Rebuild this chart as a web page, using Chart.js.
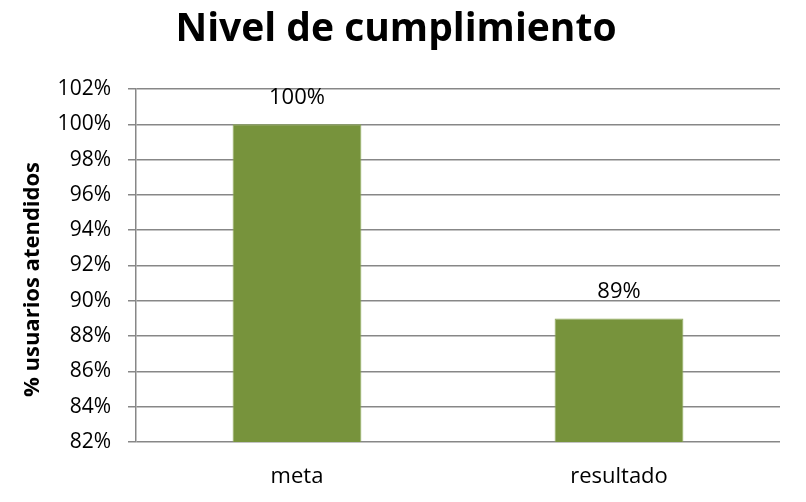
<!DOCTYPE html>
<html>
<head>
<meta charset="utf-8">
<script src="https://cdn.jsdelivr.net/npm/chart.js@4/dist/chart.umd.min.js"></script>
<style>
html,body{margin:0;padding:0;background:#fff;}
#wrap{width:806px;height:502px;position:relative;}
</style>
</head>
<body>
<div id="wrap"><canvas id="c" width="806" height="502"></canvas></div>
<script>
const categories = ["meta", "resultado"];
const values = [100, 89];
const yTicks = [82, 84, 86, 88, 90, 92, 94, 96, 98, 100, 102];
const titleText = "Nivel de cumplimiento";
const yAxisTitle = "% usuarios atendidos";

const FONT = "'Open Sans', Lato, sans-serif";

const dataLabels = {
  id: 'dataLabels',
  afterDatasetsDraw(chart) {
    const ctx = chart.ctx;
    const meta = chart.getDatasetMeta(0);
    ctx.save();
    ctx.font = "22px " + FONT;
    ctx.fillStyle = "#000";
    ctx.textAlign = "center";
    ctx.textBaseline = "middle";
    meta.data.forEach((bar, i) => {
      ctx.fillText(values[i] + "%", bar.x, bar.y - 27);
    });
    ctx.restore();
  }
};

const yTitlePlugin = {
  id: 'yTitlePlugin',
  afterDraw(chart) {
    const ctx = chart.ctx;
    const area = chart.chartArea;
    ctx.save();
    ctx.font = "bold 22px " + FONT;
    ctx.fillStyle = "#000";
    ctx.textAlign = "center";
    ctx.textBaseline = "middle";
    ctx.translate(33, (area.top + area.bottom) / 2 + 14);
    ctx.rotate(-Math.PI / 2);
    ctx.fillText(yAxisTitle, 0, 0);
    ctx.restore();
  }
};

new Chart(document.getElementById('c'), {
  type: 'bar',
  data: {
    labels: categories,
    datasets: [{
      data: values,
      backgroundColor: '#77933C',
      borderColor: '#8FAA5A',
      borderWidth: 1,
      categoryPercentage: 0.4,
      barPercentage: 1.0
    }]
  },
  plugins: [dataLabels, yTitlePlugin],
  options: {
    responsive: false,
    animation: false,
    devicePixelRatio: 1,
    layout: { padding: { left: 12, right: 26, top: 0, bottom: 0 } },
    plugins: {
      legend: { display: false },
      tooltip: { enabled: false },
      title: {
        display: true,
        text: titleText,
        color: '#000',
        font: { family: FONT, size: 39, weight: 'bold', lineHeight: 1.2 },
        padding: { top: 6, bottom: 36.2 }
      }
    },
    scales: {
      x: {
        grid: { display: false, drawTicks: false },
        border: { display: false },
        ticks: { color: '#000', font: { family: FONT, size: 22 }, padding: 22 },
        afterFit(s) { s.height = 60; }
      },
      y: {
        min: 82, max: 102,
        afterBuildTicks(s) { s.ticks = yTicks.map(v => ({ value: v })); },
        grid: { color: '#878787', lineWidth: 1.5, tickLength: 8, drawTicks: true },
        border: { display: true, color: '#878787', width: 1.5 },
        ticks: {
          color: '#000',
          font: { family: FONT, size: 21 },
          padding: 17,
          callback: v => v + '%'
        },
        afterFit(s) { s.width = 124; }
      }
    }
  }
});
</script>
</body>
</html>
